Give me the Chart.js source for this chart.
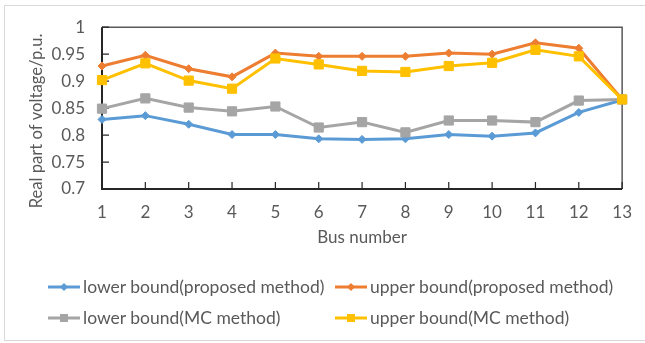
<!DOCTYPE html>
<html>
<head>
<meta charset="utf-8">
<script src="https://cdn.jsdelivr.net/npm/chart.js@4.4.1/dist/chart.umd.min.js"></script>
<style>
  body { margin: 0; background: #fff; }
  #wrap { position: relative; width: 645px; height: 343px; overflow: hidden; font-family: Lato, sans-serif; }
  #frame { position: absolute; left: 4px; top: 5px; width: 660px; height: 336px; border: 1px solid #d9d9d9; box-sizing: border-box; }
  #chart { position: absolute; left: 0; top: 0; }
  .leg { position: absolute; display: flex; align-items: center; font-size: 17.5px; color: #595959; white-space: nowrap; }
  .leg svg { margin-right: 3px; }
</style>
</head>
<body>
<div id="wrap">
  <div id="frame"></div>
  <canvas id="chart" width="645" height="343"></canvas>
  <div id="legend"></div>
</div>
<script>
const busNumbers = ['1', '2', '3', '4', '5', '6', '7', '8', '9', '10', '11', '12', '13'];
const lowerProposed = [0.829, 0.836, 0.820, 0.801, 0.801, 0.793, 0.792, 0.793, 0.801, 0.798, 0.804, 0.842, 0.865];
const upperProposed = [0.928, 0.948, 0.923, 0.908, 0.952, 0.946, 0.946, 0.946, 0.952, 0.950, 0.971, 0.961, 0.866];
const lowerMC = [0.849, 0.868, 0.851, 0.844, 0.853, 0.814, 0.824, 0.805, 0.827, 0.827, 0.824, 0.864, 0.866];
const upperMC = [0.902, 0.933, 0.901, 0.886, 0.942, 0.931, 0.919, 0.917, 0.928, 0.934, 0.958, 0.946, 0.866];
const seriesNames = ['lower bound(proposed method)', 'upper bound(proposed method)', 'lower bound(MC method)', 'upper bound(MC method)'];
const seriesColors = ['#5b9bd5', '#ed7d31', '#a5a5a5', '#ffc000'];

const textColor = '#595959';
const fontFamily = 'Lato, sans-serif';

function series(i, values, marker, radius, order) {
  return {
    label: seriesNames[i],
    data: values,
    borderColor: seriesColors[i],
    backgroundColor: seriesColors[i],
    borderWidth: 3,
    pointStyle: marker,
    pointRadius: radius,
    pointHoverRadius: radius,
    pointBorderWidth: 1,
    tension: 0,
    order: order
  };
}

// plot frame + inward tick marks, like the Excel original
const framePlugin = {
  id: 'frame',
  beforeDatasetsDraw(chart) {
    const {ctx, chartArea: a, scales} = chart;
    ctx.save();
    ctx.strokeStyle = '#595959';
    ctx.lineWidth = 1.5;
    ctx.beginPath();
    ctx.moveTo(a.left, a.top); ctx.lineTo(a.right, a.top); ctx.lineTo(a.right, a.bottom);
    ctx.stroke();
    ctx.strokeStyle = '#262626';
    ctx.lineWidth = 2;
    ctx.beginPath();
    ctx.moveTo(a.left, a.top); ctx.lineTo(a.left, a.bottom); ctx.lineTo(a.right, a.bottom);
    ctx.stroke();
    ctx.lineWidth = 1.2;
    ctx.beginPath();
    busNumbers.forEach((b, i) => {
      const x = scales.x.getPixelForValue(i);
      ctx.moveTo(x, a.bottom); ctx.lineTo(x, a.bottom - 7);
    });
    scales.y.ticks.forEach(t => {
      const y = scales.y.getPixelForValue(t.value);
      ctx.moveTo(a.left, y); ctx.lineTo(a.left + 7, y);
    });
    ctx.stroke();
    // y axis title
    ctx.fillStyle = textColor;
    ctx.font = '16.6px ' + fontFamily;
    ctx.textAlign = 'center';
    ctx.textBaseline = 'middle';
    ctx.translate(37, 121);
    ctx.rotate(-Math.PI / 2);
    ctx.fillText('Real part of voltage/p.u.', 0, 0);
    ctx.restore();
  }
};

new Chart(document.getElementById('chart'), {
  type: 'line',
  data: {
    labels: busNumbers,
    datasets: [
      series(0, lowerProposed, 'rectRot', 4, 3),
      series(1, upperProposed, 'rectRot', 4, 2),
      series(2, lowerMC, 'rect', 6.5, 1),
      series(3, upperMC, 'rect', 6.5, 0)
    ]
  },
  options: {
    responsive: false,
    animation: false,
    layout: { padding: { top: 23, right: 20, bottom: 91, left: 0 } },
    plugins: { legend: { display: false }, tooltip: { enabled: false } },
    scales: {
      x: {
        offset: false,
        grid: { display: false, drawTicks: false },
        border: { display: false },
        ticks: { color: textColor, font: { family: fontFamily, size: 17 }, padding: 13, maxRotation: 0 },
        title: { display: true, text: 'Bus number', color: textColor, font: { family: fontFamily, size: 17 }, padding: 4 },
        afterFit(s) { s.height = 63; }
      },
      y: {
        min: 0.7,
        max: 1,
        grid: { display: false, drawTicks: false },
        border: { display: false },
        ticks: {
          stepSize: 0.05,
          color: textColor,
          font: { family: fontFamily, size: 17 },
          padding: 17,
          callback: v => String(Math.round(v * 100) / 100)
        },
        afterFit(s) { s.width = 102; }
      }
    }
  },
  plugins: [framePlugin]
});

// legend laid out in two aligned columns as in the original
const legendPos = [[48, 287], [335, 287], [48, 318], [335, 318]];
const legendMarks = ['diamond', 'diamond', 'square', 'square'];
const legend = document.getElementById('legend');
seriesNames.forEach((name, i) => {
  const c = seriesColors[i];
  const mark = legendMarks[i] === 'diamond'
    ? `<polygon points="16,2 20,6 16,10 12,6" fill="${c}"/>`
    : `<rect x="12" y="2" width="8" height="8" fill="${c}"/>`;
  const el = document.createElement('div');
  el.className = 'leg';
  el.style.left = legendPos[i][0] + 'px';
  el.style.top = (legendPos[i][1] - 11) + 'px';
  el.innerHTML = `<svg width="32" height="12"><line x1="0" y1="6" x2="32" y2="6" stroke="${c}" stroke-width="3"/>${mark}</svg>${name}`;
  legend.appendChild(el);
});
</script>
</body>
</html>
